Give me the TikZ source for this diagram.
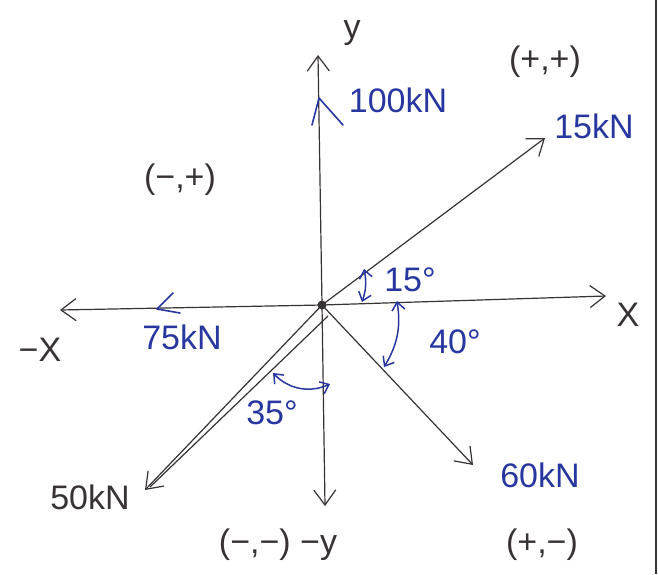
\documentclass[tikz,border=0pt]{standalone}
\usepackage{fontspec}
\setmainfont{Liberation Sans}
\usetikzlibrary{arrows.meta,calc}
\definecolor{ink}{RGB}{55,50,52}
\definecolor{bink}{RGB}{40,55,160}
\begin{document}
\begin{tikzpicture}[x=1pt,y=-1pt,
  vec/.style={draw=ink,line width=1.2pt,-{Straight Barb[length=15pt,width=22pt]}},
  ang/.style={draw=bink,line width=1.5pt,{Straight Barb[length=8pt,width=13pt]}-{Straight Barb[length=8pt,width=13pt]}},
  chev/.style={draw=bink,line width=1.6pt,line cap=round,line join=round},
  blk/.style={text=ink,font=\fontsize{34}{36}\selectfont,inner sep=0pt},
  blu/.style={text=bink,font=\fontsize{34}{36}\selectfont,inner sep=0pt}]
\useasboundingbox (0,0) rectangle (658,574);
\fill[white] (0,0) rectangle (658,574);
\draw[ink,line width=1.5pt] (656,0) -- (656,574);
% coordinates
\coordinate (O) at (322,305);
\coordinate (xr) at (606,296);
\coordinate (xl) at (60,310);
\coordinate (yt) at (318,55);
\coordinate (yb) at (325,506);
\coordinate (f15) at (545,138);
\coordinate (f60) at (473,465);
\coordinate (f50) at (145,490);
\coordinate (f50b) at (328,316);
\coordinate (f50c) at (150,487);
% axes
\draw[vec] (O) -- (xr);
\draw[vec] (O) -- (xl);
\draw[vec] (O) -- (yt);
\draw[vec] (O) -- (yb);
% forces
\draw[vec] (O) -- (f15);
\draw[vec] (O) -- (f60);
\draw[vec] (O) -- (f50);
\draw[ink,line width=1.2pt] (f50b) -- (f50c);
\fill[ink] (O) circle (4.5);
% blue chevrons on axes
\coordinate (c1) at (319,98);
\coordinate (c2) at (157,309);
\draw[chev] (312,125) -- (c1) -- (343,125);
\draw[chev] (173,293) -- (c2) -- (180,313);
% angle arcs
\coordinate (a1) at (364,269);
\coordinate (a2) at (362,302);
\draw[ang] (a1) to[bend left=15] (a2);
\coordinate (b1) at (397,301);
\coordinate (b2) at (384,367);
\draw[ang] (b1) to[bend left=20] (b2);
\coordinate (d1) at (273,373);
\coordinate (d2) at (330,384);
\draw[ang] (d1) to[bend right=35] (d2);
% labels
\node[blk] (ly) at (352,33) {y};
\node[blu] (l100) at (398,100) {100kN};
\node[blk] (lpp) at (545,62) {(+,+)};
\node[blu] (l15) at (594,126) {15kN};
\node[blk] (lmp) at (180,180) {(−,+)};
\node[blk] (lx) at (628,315) {X};
\node[blk] (lmx) at (40,350) {−X};
\node[blu] (l75) at (182,337) {75kN};
\node[blu] (la15) at (410,280) {15°};
\node[blu] (la40) at (455,342) {40°};
\node[blu] (la35) at (272,413) {35°};
\node[blk] (l50) at (90,497) {50kN};
\node[blu] (l60) at (540,475) {60kN};
\node[blk] (lmm) at (278,545) {(−,−) −y};
\node[blk] (lpm) at (542,545) {(+,−)};
\end{tikzpicture}
\end{document}
